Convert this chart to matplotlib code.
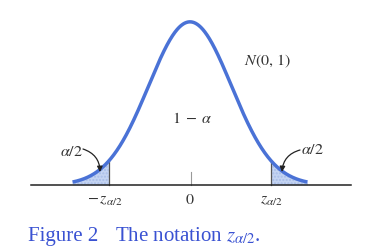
import numpy as np
import matplotlib
matplotlib.use("Agg")
import matplotlib.pyplot as plt

# data
z_crit = 1.96
z_range = [-2.83, 2.83]
tick_labels = [r'$-\,z_{\alpha/2}$', r'$0$', r'$z_{\alpha/2}$']
tick_pos = [-z_crit, 0.0, z_crit]

plt.rcParams['mathtext.fontset'] = 'stix'
plt.rcParams['font.family'] = ['Liberation Serif', 'DejaVu Serif']

W, H = 377, 250
fig = plt.figure(figsize=(W / 100, H / 100), dpi=100)
ax = fig.add_axes([0, 0, 1, 1])
ax.set_axis_off()

# pixel mapping
x0_px, sx = 190.0, 41.5
base_px = 65.0  # from bottom
sy = 409.0
ax.set_xlim(-x0_px / sx, (W - x0_px) / sx)
ax.set_ylim(-base_px / sy, (H - base_px) / sy)

def pdf(x):
    return np.exp(-x ** 2 / 2) / np.sqrt(2 * np.pi)

x = np.linspace(z_range[0], z_range[1], 600)
y = pdf(x)

blue = '#4a72d6'
fill_col = '#c4d4f2'

# shaded tails
for lo, hi in [(z_range[0], -z_crit), (z_crit, z_range[1])]:
    xs = np.linspace(lo, hi, 100)
    ax.fill_between(xs, 0, pdf(xs), color=fill_col, lw=0, zorder=1)
    ax.fill_between(xs, 0, pdf(xs), facecolor='none', edgecolor='#a8bde8',
                    hatch='.....', lw=0, zorder=1)

# vertical lines at critical values
for zc in [-z_crit, z_crit]:
    ax.plot([zc, zc], [0, pdf(zc)], color='#555555', lw=0.9, zorder=2)

# curve
ax.plot(x, y, color=blue, lw=2.5, solid_capstyle='butt', zorder=3)

# baseline axis
ax.plot([(31 - x0_px) / sx, (351 - x0_px) / sx], [0, 0], color='#222222', lw=1.1, zorder=4)
# zero tick
ax.plot([0.02, 0.02], [0, 13 / sy], color='#999999', lw=0.8, zorder=2)

# tick labels
for p, lab in zip(tick_pos, tick_labels):
    ax.text(p - (0.08 if p < 0 else 0), -15 / sy, lab, ha='center', va='center',
            fontsize=11.5, color='#333333')

def px(xp, yp):
    return ((xp - x0_px) / sx, (H - yp - base_px) / sy)

# labels
ax.text(*px(268, 61), r'$N(0,\,1)$', ha='center', va='center', fontsize=11.5, color='#333333')
ax.text(*px(192, 119), r'$1\;-\;\alpha$', ha='center', va='center', fontsize=11.5, color='#333333')
ax.text(*px(71, 152), r'$\alpha/2$', ha='center', va='center', fontsize=11.5, color='#333333')
ax.text(*px(312, 150), r'$\alpha/2$', ha='center', va='center', fontsize=11.5, color='#333333')

ax.annotate('', xy=px(100, 172), xytext=px(83, 149),
            arrowprops=dict(arrowstyle='-|>', color='#222222', lw=0.9, shrinkA=0, shrinkB=0,
                            connectionstyle='arc3,rad=-0.35', mutation_scale=8), zorder=5)
ax.annotate('', xy=px(282, 172), xytext=px(300, 150),
            arrowprops=dict(arrowstyle='-|>', color='#222222', lw=0.9, shrinkA=0, shrinkB=0,
                            connectionstyle='arc3,rad=0.35', mutation_scale=8), zorder=5)

# caption
cap_col = '#3a52d2'
fig.text(28 / W, 1 - 241 / H, 'Figure 2', ha='left', va='baseline', fontsize=15, color=cap_col)
fig.text(115 / W, 1 - 241 / H, r'The notation $z_{\alpha/2}$.', ha='left', va='baseline',
         fontsize=15, color=cap_col)

fig.savefig('out.png', dpi=100)
